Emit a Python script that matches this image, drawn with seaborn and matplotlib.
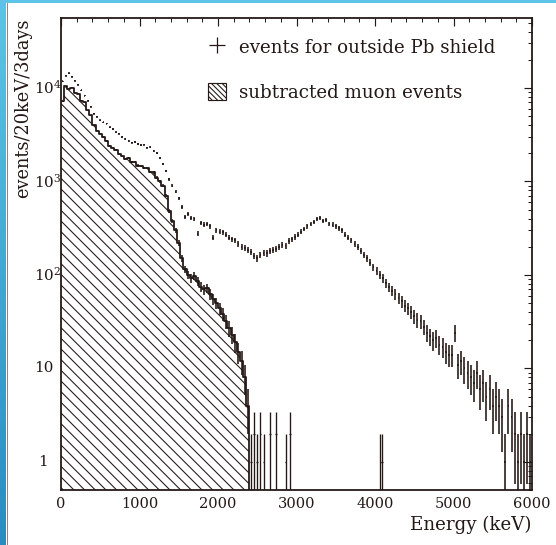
import numpy as np
import pandas as pd
import matplotlib
matplotlib.use("Agg")
import matplotlib.pyplot as plt
import seaborn as sns
from matplotlib.lines import Line2D
from matplotlib.patches import Patch, Rectangle
from matplotlib.colors import LinearSegmentedColormap
from matplotlib.ticker import MultipleLocator, LogLocator, NullFormatter

# ---------------- data ----------------
bin_width = 40  # keV spacing of plotted points
data_energy = np.arange(20, 6000, bin_width)
outside_counts = [
    11800, 13500, 14300, 13200, 12000, 10800, 9400, 8300, 7300, 6300,
    5300, 4900, 4500, 4300, 4150, 3800, 3650, 3350, 3250, 3000,
    2850, 2700, 2600, 2650, 2500, 2450, 2480, 2300, 2350, 2100,
    2000, 1800, 1550, 1300, 1050, 900, 780, 660, 530, 420,
    450, 410, 400, 275, 360, 345, 350, 330, 250, 300,
    290, 285, 270, 250, 240, 235, 215, 200, 195, 185,
    175, 160, 150, 165, 172, 170, 180, 185, 190, 200,
    210, 205, 230, 240, 255, 270, 290, 310, 330, 350,
    370, 400, 410, 375, 385, 350, 345, 330, 315, 300,
    270, 250, 235, 215, 200, 180, 165, 150, 135, 120,
    110, 100, 92, 82, 74, 68, 62, 56, 52, 47,
    44, 40, 36, 33, 32, 28, 24, 22, 20, 21,
    18, 17, 15, 14, 14, 24, 11, 12, 10, 9,
    8, 7, 9, 6, 7, 5, 6, 4, 5, 4,
    3, 1, 4, 3, 2, 1, 2, 1, 2, 1,
]

muon_edges = np.arange(0, 2440, bin_width)
muon_counts = [
    7200, 10500, 9800, 10100, 8900, 8700, 7300, 7000, 5800, 5100,
    4000, 3500, 3250, 3000, 2700, 2400, 2300, 2150, 1950, 1850,
    1750, 1780, 1600, 1620, 1480, 1450, 1400, 1380, 1270, 1250,
    1100, 1000, 900, 700, 480, 380, 300, 220, 150, 115,
    100, 92, 98, 85, 75, 70, 72, 62, 55, 50,
    44, 38, 32, 27, 23, 19, 15, 12, 8, 4,
]
spike_energy = [2420, 2460, 2500, 2540, 2580, 2660, 2740, 2860, 2920, 4070, 4090]
spike_counts = [1, 2, 1, 2, 1, 2, 2, 1, 2, 1, 1]

xticks = [0, 1000, 2000, 3000, 4000, 5000, 6000]
ytick_vals = [1, 10, 100, 1000, 10000]
ytick_labels = ["1", "10", r"$\mathregular{10^2}$", r"$\mathregular{10^3}$", r"$\mathregular{10^4}$"]

legend_labels = ["events for outside Pb shield", "subtracted muon events"]

# ---------------- style ----------------
ink = "#231815"
DPI = 64
sns.set_theme(style="white")
plt.rcParams["font.family"] = ["DejaVu Serif"]
plt.rcParams["mathtext.fontset"] = "dejavuserif"
plt.rcParams["hatch.linewidth"] = 1.2
plt.rcParams["hatch.color"] = ink

TICK_FS = 16.5
LABEL_FS = 20.5

W, H = 556, 545
fig = plt.figure(figsize=(W / DPI, H / DPI), dpi=DPI)
fig.patch.set_facecolor("white")

# blue frame strips
grad = fig.add_axes([0, 0, 6 / W, 1])
g = np.linspace(0, 1, 256).reshape(-1, 1)
cmap = LinearSegmentedColormap.from_list("b", ["#5cc4e8", "#2b8bc3"])
grad.imshow(g, aspect="auto", cmap=cmap, extent=[0, 1, 0, 1])
grad.axis("off")
fig.patches.append(Rectangle((0, 1 - 3 / H), 1, 3 / H, transform=fig.transFigure,
                             facecolor="#5cc4e8", edgecolor="none", zorder=5))
fig.add_artist(Line2D([6.5 / W, 6.5 / W], [0, 1 - 3 / H], color="#6f7d8a", lw=1.0))

L, R, T, B = 61, 532, 18, 490
ax = fig.add_axes([L / W, 1 - B / H, (R - L) / W, (B - T) / H])
ax.set_yscale("log")

# hatched muon histogram
muon_centers = muon_edges[:-1] + bin_width / 2
mc = np.array(muon_counts, float)
step_x = np.concatenate([muon_edges, [muon_edges[-1]]])
step_y = np.concatenate([mc, [mc[-1]], [1e-3]])
ax.fill_between(muon_edges, np.concatenate([mc, [mc[-1]]]), 1e-3, step="post",
                facecolor="none", edgecolor=ink, hatch="\\\\", linewidth=0)
step_df = pd.DataFrame({"E": step_x, "n": step_y})
sns.lineplot(data=step_df, x="E", y="n", drawstyle="steps-post", color=ink,
             linewidth=2.0, estimator=None, sort=False, ax=ax)
ax.errorbar(muon_centers, mc, yerr=[np.minimum(np.sqrt(mc), mc - 1e-3), np.sqrt(mc)],
            fmt="none", ecolor=ink, elinewidth=1.8)
sc = np.array(spike_counts, float)
ax.errorbar(spike_energy, sc, xerr=10, yerr=[sc - 1e-3, np.sqrt(sc)],
            fmt="none", ecolor=ink, elinewidth=1.5)

# outside Pb shield points
dc = np.array(outside_counts, float)
ax.errorbar(data_energy, dc, xerr=11, yerr=[np.minimum(np.sqrt(dc), dc - 1e-3), np.sqrt(dc)],
            fmt="none", ecolor=ink, elinewidth=1.8)

ax.set_xlim(0, 6000)
ax.set_ylim(0.5, 5.6e4)
ax.set_xlabel("")
ax.set_ylabel("")
ax.set_xticks(xticks)
ax.set_xticklabels([str(v) for v in xticks])
ax.xaxis.set_minor_locator(MultipleLocator(200))
ax.yaxis.set_major_locator(LogLocator(base=10, numticks=10))
ax.yaxis.set_minor_locator(LogLocator(base=10, subs=np.arange(2, 10), numticks=20))
ax.yaxis.set_major_formatter(NullFormatter())
ax.yaxis.set_minor_formatter(NullFormatter())
ax.tick_params(which="both", direction="in", top=True, right=True, colors=ink,
               labelsize=TICK_FS, labelcolor=ink)
ax.tick_params(which="major", length=9, width=1.3, pad=8)
ax.tick_params(which="minor", length=4.5, width=1.1)
for s in ax.spines.values():
    s.set_linewidth(2.0)
    s.set_color(ink)
ax.set_facecolor("none")

# y tick labels
for v, lab in zip(ytick_vals, ytick_labels):
    xp = (38 - L) / (R - L) if v == 1 else (34 - L) / (R - L)
    ax.text(xp, v, lab, transform=ax.get_yaxis_transform(), ha="left", va="center",
            fontsize=TICK_FS + 0.5, color=ink)

ax.text((23 - L) / (R - L), 1.0, "events/20keV/3days", transform=ax.transAxes,
        rotation=90, ha="center", va="top", fontsize=LABEL_FS - 0.5, color=ink)
ax.text(1.0, -(525 - B) / (B - T), "Energy (keV)", transform=ax.transAxes,
        ha="right", va="center", fontsize=LABEL_FS, color=ink)

handles = [
    Line2D([], [], marker="+", markersize=18, mew=1.4, linestyle="none", color=ink),
    Patch(facecolor="none", edgecolor=ink, hatch="\\\\\\\\", linewidth=1.3),
]
leg = ax.legend(handles, legend_labels, loc="upper left",
                bbox_to_anchor=((208 - L) / (R - L), 1 - (38 - T) / (B - T)),
                frameon=False, fontsize=LABEL_FS, handlelength=1.0, handleheight=1.1,
                handletextpad=0.7, labelspacing=1.42, borderaxespad=0, borderpad=0)
for t in leg.get_texts():
    t.set_color(ink)

fig.savefig("out.png", dpi=DPI, facecolor="white")
